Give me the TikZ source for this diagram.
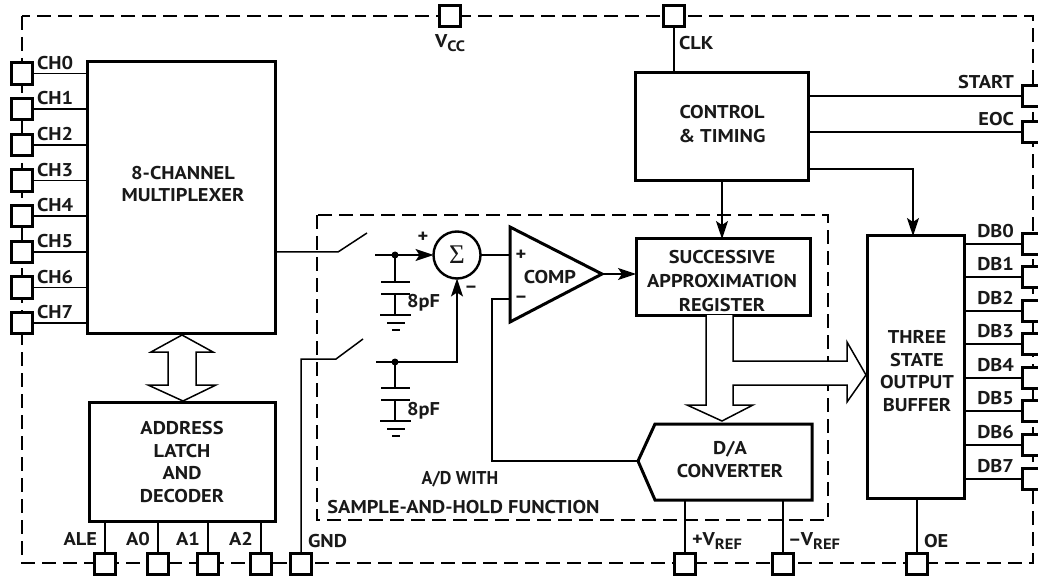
\documentclass[tikz,border=0pt]{standalone}
\usepackage{fontspec}
\setmainfont{PT Sans}[FakeStretch=1.1]
\newfontfamily\sigmafont{Liberation Serif}
\usetikzlibrary{arrows.meta,calc}
\newcommand{\subtxt}[1]{\raisebox{-3.5pt}{\fontsize{15}{16}\selectfont #1}}
\tikzset{
  every node/.style={font=\fontsize{18.5}{20}\selectfont\bfseries, inner sep=0pt, outer sep=0pt, text=black!90},
  blockbox/.style={draw, line width=3pt, fill=white, align=center, anchor=north west, line join=miter},
  pin/.style={draw, line width=3pt, fill=white, minimum width=21.5pt, minimum height=21.5pt},
  wire/.style={line width=1.5pt},
  heavy/.style={line width=3pt, line join=miter},
  bus/.style={line width=1.5pt, fill=white, line join=miter},
  outline/.style={line width=1.5pt, dash pattern=on 14pt off 7pt},
  tip/.style={-{Stealth[length=18pt,width=12pt,inset=4pt]}},
  plate/.style={line width=2.4pt},
  dotmark/.style={circle, fill=black, minimum size=7pt},
}
\begin{document}
\begin{tikzpicture}[x=1pt,y=-1pt]
\path[use as bounding box] (0,0) rectangle (1038,577);
\clip (0,0) rectangle (1038,577);
% package outline and A/D region
\coordinate (oa) at (22,16); \coordinate (ob) at (1033,563);
\draw[outline] (oa) rectangle (ob);
\coordinate (ia) at (317,215); \coordinate (ib) at (828,520);
\draw[outline] (ia) rectangle (ib);
% blocks
\node[blockbox, minimum width=188pt, minimum height=271pt] (mux) at (87,62) {};
\node (muxt) at (183,184) [align=center] {8-CHANNEL\\[2pt]MULTIPLEXER};
\node[blockbox, minimum width=186pt, minimum height=119pt] (addr) at (89,402) {};
\node (addrt) at (182,462) [align=center] {ADDRESS\\[2.5pt]LATCH\\[2.5pt]AND\\[2.5pt]DECODER};
\node[blockbox, minimum width=173pt, minimum height=108pt] (ctrl) at (635,73) {};
\node (ctrlt) at (722,124.5) [align=center] {CONTROL\\[4pt]\& TIMING};
\node[blockbox, minimum width=174pt, minimum height=76pt] (sar) at (636,239) {};
\node (sart) at (722,281) [align=center] {SUCCESSIVE\\[4pt]APPROXIMATION\\[4pt]REGISTER};
\node[blockbox, minimum width=97pt, minimum height=262pt] (buf) at (867,236) {};
\node (buft) at (917,371) [align=center] {THREE\\[2.7pt]STATE\\[2.7pt]OUTPUT\\[2.7pt]BUFFER};
% D/A converter
\coordinate (datip) at (638,461);
\coordinate (dara) at (655,424); \coordinate (darb) at (812,424);
\coordinate (darc) at (812,500); \coordinate (dard) at (655,500);
\draw[heavy, fill=white] (datip) -- (dara) -- (darb) -- (darc) -- (dard) -- cycle;
\node (dat) at (730,459.5) [align=center] {D/A\\[3pt]CONVERTER};
% comparator
\coordinate (cmpa) at (510,227); \coordinate (cmpb) at (510,322); \coordinate (cmpo) at (602,274);
\coordinate (cmpp) at (510,255); \coordinate (cmpm) at (510,299);
\draw[heavy, fill=white] (cmpa) -- (cmpo) -- (cmpb) -- cycle;
\node (cmpt) at (550,277) {COMP};
\node (cmpplus) at (521,255) {+};
\node (cmpminus) at (521,299) {–};
% summer
\node[circle, draw, line width=2.4pt, minimum size=47pt] (sum) at (457,255) {\sigmafont\mdseries\fontsize{27}{27}\selectfont Σ};
\node (sump) at (423,237) {+};
\node (summ) at (471,289) {–};
% bus arrows
\coordinate (muxtip) at (182,335); \coordinate (addrtip) at (183,401);
\draw[bus] (muxtip) -- (213,352) -- (196,352) -- (196,385) -- (216,385) -- (addrtip)
  -- (148,385) -- (168,385) -- (168,352) -- (151,352) -- cycle;
\coordinate (dabus) at (722,421); \coordinate (buftip) at (866,375);
\coordinate (sarl) at (706,315); \coordinate (sarr) at (733,315);
\draw[bus] (sarl) -- (706,405) -- (687,405) -- (dabus) -- (753,405) -- (733,405)
  -- (733,385) -- (847,385) -- (847,402) -- (buftip) -- (847,342) -- (847,361) -- (733,361) -- (sarr);
% pins on the left
\foreach \n/\y in {0/73.5,1/109,2/145,3/180.5,4/216,5/252,6/287.5,7/323}{
  \node[pin] (ch\n) at (22,\y) {};
  \draw[wire] (ch\n.east) -- (ch\n.east -| mux.west);
  \node[anchor=west] (chl\n) at (37,\y-10.5) {CH\n};
}
% pins on the right
\foreach \n/\y in {0/244,1/277,2/311,3/344,4/378,5/411,6/445,7/479}{
  \node[pin] (db\n) at (1033,\y) {};
  \draw[wire] (buf.east |- db\n.west) -- (db\n.west);
  \node[anchor=east] (dbl\n) at (1014,\y-13) {DB\n};
}
\node[pin] (start) at (1033,96) {};
\node[pin] (eoc) at (1033,132) {};
\draw[wire] (ctrl.east |- start.west) -- (start.west);
\draw[wire] (ctrl.east |- eoc.west) -- (eoc.west);
\node[anchor=east] (startl) at (1014,82) {START};
\node[anchor=east] (eocl) at (1014,119) {EOC};
% pins on the top
\node[pin] (vcc) at (450,16) {};
\node[anchor=west] (vccl) at (435,43) {V\subtxt{CC}};
\node[pin] (clk) at (674,16) {};
\draw[wire] (clk) -- (ctrl.north -| clk);
\node[anchor=west] (clkl) at (679,43) {CLK};
% pins on the bottom
\foreach \nm/\x/\t in {ale/105/ALE,azero/158/A0,aone/208/A1,atwo/261/A2}{
  \node[pin] (\nm) at (\x,564) {};
  \draw[wire] (\nm.north) -- (addr.south -| \nm);
  \node[anchor=east] (\nm l) at (\x-8,539) {\t};
}
\node[pin] (gnd) at (301,564) {};
\node[anchor=west] (gndl) at (308,541) {GND};
\node[pin] (vrefp) at (685,564) {};
\draw[wire] (vrefp.north) -- (vrefp.north |- dard);
\node[anchor=west] (vrefpl) at (692,541) {+V\subtxt{REF}};
\node[pin] (vrefm) at (783,564) {};
\draw[wire] (vrefm.north) -- (vrefm.north |- darc);
\node[anchor=west] (vrefml) at (788,541) {–V\subtxt{REF}};
\node[pin] (oe) at (917,564) {};
\draw[wire] (oe.north) -- (oe.north |- buf.south);
\node[anchor=west] (oel) at (924,541) {OE};
% sample switches
\coordinate (swa) at (338,252); \coordinate (swb) at (367,233);
\draw[wire] (mux.east |- swa) -- (swa) -- (swb);
\coordinate (swc) at (336,359); \coordinate (swd) at (363,339);
\draw[wire] (gnd.north) |- (swc) -- (swd);
% top input and capacitor
\coordinate (ina) at (375,255); \coordinate (inb) at (376,362);
\node[dotmark] (dota) at (395,255) {};
\node[dotmark] (dotb) at (395,362) {};
\draw[wire, tip] (ina) -- (sum.west);
\draw[wire, tip] (inb) -| (sum.south);
\foreach \d/\o in {dota/0,dotb/106}{
  \draw[wire] (\d.center) -- (395,282+\o);
  \draw[wire] (395,294+\o) -- (395,315+\o);
  \draw[plate] (381,282+\o) -- (410,282+\o);
  \draw[plate] (381,294+\o) -- (410,294+\o);
  \draw[plate] (380,315+\o) -- (411,315+\o);
  \draw[plate, line width=2pt] (387,323+\o) -- (405,323+\o);
  \draw[plate, line width=2pt] (392,330+\o) -- (400,330+\o);
}
\node[anchor=west] (cap1) at (407,303) {8pF};
\node[anchor=west] (cap2) at (407,411) {8pF};
% connectors
\draw[wire] (sum.east) -- (cmpp);
\draw[wire, tip] (cmpo) -- (sar.west |- cmpo);
\draw[wire] (cmpm) -| (492,461) -- (datip);
\draw[wire, tip] (ctrl.south -| 722,0) -- (sar.north -| 722,0);
\draw[wire, tip] (ctrl.east |- 0,169) -| (buf.north -| 913,0);
% region caption
\node (adt) at (460,479) {\scalebox{0.88}[1]{A/D WITH}};
\node (adb) at (463.5,507) {SAMPLE-AND-HOLD FUNCTION};
\end{tikzpicture}
\end{document}
